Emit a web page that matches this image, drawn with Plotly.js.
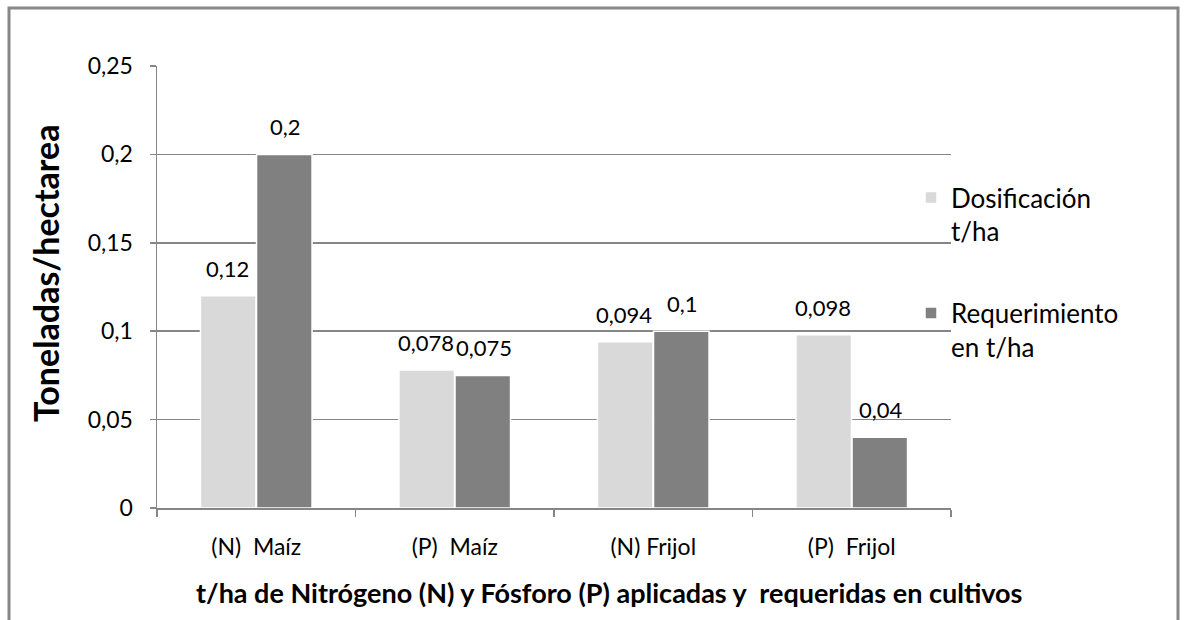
<!DOCTYPE html>
<html>
<head>
<meta charset="utf-8">
<script src="https://cdn.plot.ly/plotly-3.0.1.min.js"></script>
<style>html,body{margin:0;padding:0;background:#fff;}#chart{width:1186px;height:620px;}</style>
</head>
<body>
<div id="chart"></div>
<script>
const categories = ["(N)\u00a0\u00a0Maíz", "(P)\u00a0\u00a0Maíz", "(N) Frijol", "(P)\u00a0\u00a0Frijol"];
const dosificacion = [0.12, 0.078, 0.094, 0.098];
const requerimiento = [0.2, 0.075, 0.1, 0.04];
const seriesNames = ["Dosificación<br>t/ha", "Requerimiento<br>en t/ha"];
const yTicks = [0, 0.05, 0.1, 0.15, 0.2, 0.25];
const yTickText = ["0", "0,05", "0,1", "0,15", "0,2", "0,25"];
const xTitle = "t/ha de Nitrógeno (N) y Fósforo (P) aplicadas y  requeridas en cultivos";
const yTitle = "Toneladas/hectarea";

const fmt = v => String(v).replace('.', ',');
const FONT = "Lato, 'Open Sans', sans-serif";

const traces = [
  {type:'bar', name: seriesNames[0], legendgroup:'a', x: categories, y: dosificacion,
   marker:{color:'#d9d9d9', line:{color:'#ffffff', width:1.5}}},
  {type:'bar', name: seriesNames[1], legendgroup:'b', x: categories, y: requerimiento,
   marker:{color:'#808080', line:{color:'#ffffff', width:1.5}}}
];

const W = 794, H = 442;
const px = x => (x - 157) / W;
const py = y => (508 - y) / H;

const annotations = [];
[dosificacion, requerimiento].forEach((arr, si) => {
  arr.forEach((v, i) => {
    annotations.push({x: categories[i], y: v, xref:'x', yref:'y', text: fmt(v),
      showarrow:false, xshift: si === 0 ? -29 : 29, yanchor:'bottom', yshift:12,
      font:{family:FONT, size:22, color:'#000'}});
  });
});
annotations.push({xref:'paper', yref:'paper', x:px(609), y:py(592), xanchor:'center', yanchor:'middle',
  showarrow:false, text:'<b>' + xTitle.replace(/  /g, ' \u00a0') + '</b>',
  font:{family:FONT, size:27, color:'#000'}});
annotations.push({xref:'paper', yref:'paper', x:px(45), y:py(274), xanchor:'center', yanchor:'middle',
  showarrow:false, textangle:-90, text:'<b>' + yTitle + '</b>',
  font:{family:FONT, size:34, color:'#000'}});

const layout = {
  width:1186, height:620,
  margin:{l:157, r:235, t:66, b:112, pad:0},
  paper_bgcolor:'#fff', plot_bgcolor:'#fff',
  font:{family:FONT, size:20, color:'#000'},
  separators:',.',
  barmode:'group', bargap:0.435, bargroupgap:0.01,
  showlegend:true,
  legend:{x:px(911), y:py(174), xanchor:'left', yanchor:'top', valign:'top',
    traceorder:'grouped', tracegroupgap:45,
    font:{family:FONT, size:26, color:'#000'}, bgcolor:'rgba(0,0,0,0)'},
  xaxis:{type:'category', tickson:'boundaries', ticks:'outside', ticklen:7, tickwidth:1.5,
    tickcolor:'#868686', showline:true, linecolor:'#868686', linewidth:1.5,
    showgrid:false, ticklabelstandoff:18, tickfont:{family:FONT, size:23, color:'#000'}},
  yaxis:{range:[0,0.25], tickvals:yTicks, ticktext:yTickText, ticks:'outside', ticklen:6,
    tickwidth:1.5, tickcolor:'#868686', showline:true, linecolor:'#868686', linewidth:1.5,
    showgrid:true, gridcolor:'#868686', gridwidth:1.5, zeroline:false,
    ticklabelstandoff:12, tickfont:{family:FONT, size:23, color:'#000'}},
  annotations: annotations,
  shapes:[{type:'rect', xref:'paper', yref:'paper', x0:px(9), x1:px(1178), y0:py(640), y1:py(8),
    line:{color:'#878787', width:3}, fillcolor:'rgba(0,0,0,0)', layer:'below'}]
};

Plotly.newPlot('chart', traces, layout, {displayModeBar:false, staticPlot:true});
</script>
</body>
</html>
